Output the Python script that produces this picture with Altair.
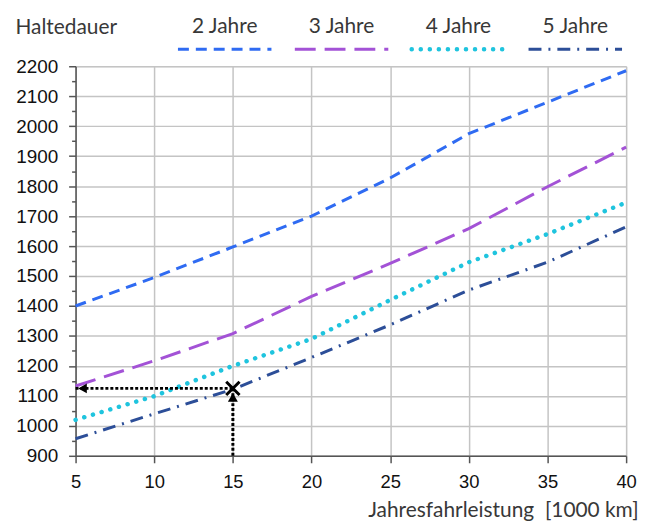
import altair as alt
import pandas as pd

# ---- data ----
km = [5, 10, 15, 20, 25, 30, 35, 40]
jahre2 = [1400, 1495, 1597, 1700, 1827, 1975, 2080, 2185]
jahre3 = [1133, 1217, 1308, 1432, 1542, 1658, 1798, 1930]
jahre4 = [1020, 1099, 1200, 1290, 1420, 1546, 1640, 1745]
jahre5 = [957, 1040, 1122, 1228, 1337, 1453, 1546, 1664]
series_names = ["2 Jahre", "3 Jahre", "4 Jahre", "5 Jahre"]
series_values = [jahre2, jahre3, jahre4, jahre5]
series_colors = ["#2F6BF2", "#A352D6", "#1FC4DE", "#2C4E98"]
series_dash = [[11, 7], [21, 9], [0.1, 9], [13, 7, 2, 7]]
series_width = [3, 3, 4.5, 3]
series_cap = ["butt", "butt", "round", "butt"]

mark_km = [15]
mark_val = [1125]

x_ticks = [5, 10, 15, 20, 25, 30, 35, 40]
y_ticks = list(range(900, 2201, 50))
x_domain = [5, 40]
y_domain = [900, 2200]

LABEL_FONT = "Liberation Sans"
TITLE_FONT = "Lato"
GRID = "#C4C4C4"
AXISC = "#555555"
TXT = "#383838"

xscale = alt.Scale(domain=x_domain, nice=False, zero=False)
yscale = alt.Scale(domain=y_domain, nice=False, zero=False)

x_axis = alt.Axis(
    values=x_ticks, format="d", grid=True, gridColor=GRID, gridWidth=1.5,
    domainColor=AXISC, domainWidth=1.5, tickColor=AXISC, tickWidth=1.5, tickSize=7,
    labelFont=LABEL_FONT, labelFontSize=18.5, labelColor="#111", labelPadding=10,
    labelFlush=False,
    title="Jahresfahrleistung\u00a0\u00a0[1000 km]", titleFont=TITLE_FONT, titleFontSize=21,
    titleFontWeight="normal", titleColor=TXT, titleX=566, titleY=61,
    titleAlign="right", titleBaseline="alphabetic",
)
y_axis = alt.Axis(
    values=y_ticks, format="d", grid=True, gridColor=GRID, gridWidth=1.5,
    gridOpacity={"condition": {"test": "datum.value % 100 === 0", "value": 1}, "value": 0},
    tickSize={"condition": {"test": "datum.value % 100 === 0", "value": 7}, "value": 4},
    labelExpr="datum.value % 100 === 0 ? datum.label : ''",
    labelOverlap=False, labelFlush=False,
    domainColor=AXISC, domainWidth=1.5, tickColor=AXISC, tickWidth=1.5,
    labelFont=LABEL_FONT, labelFontSize=19, labelColor="#111", labelPadding=11,
    title="Haltedauer", titleFont=TITLE_FONT, titleFontSize=21, titleFontWeight="normal",
    titleColor=TXT, titleAngle=0, titleX=-61, titleY=-33, titleAlign="left",
    titleBaseline="alphabetic",
)

layers = []
for i, (name, vals) in enumerate(zip(series_names, series_values)):
    df = pd.DataFrame({"km": km, "v": vals, "s": name})
    layers.append(
        alt.Chart(df).mark_line(
            color=series_colors[i], strokeDash=series_dash[i],
            strokeWidth=series_width[i], strokeCap=series_cap[i],
        ).encode(x=alt.X("km:Q", scale=xscale, axis=x_axis),
                 y=alt.Y("v:Q", scale=yscale, axis=y_axis))
    )

mk = pd.DataFrame({"km": mark_km, "v": mark_val, "kmin": [x_domain[0]] * len(mark_km),
                   "vmin": [y_domain[0]] * len(mark_km)})
base = alt.Chart(mk)
h_arrow = base.mark_rule(color="black", strokeWidth=3, strokeDash=[3, 2]).encode(
    x=alt.X("kmin:Q", scale=xscale, axis=x_axis), x2="km:Q",
    y=alt.Y("v:Q", scale=yscale, axis=y_axis))
v_arrow = base.mark_rule(color="black", strokeWidth=3, strokeDash=[3, 2]).encode(
    x=alt.X("km:Q", scale=xscale, axis=x_axis),
    y=alt.Y("vmin:Q", scale=yscale, axis=y_axis), y2="v:Q")
h_head = base.mark_point(shape="triangle-left", filled=True, color="black", size=100,
                         opacity=1, xOffset=7).encode(
    x=alt.X("kmin:Q", scale=xscale, axis=x_axis), y=alt.Y("v:Q", scale=yscale, axis=y_axis))
v_head = base.mark_point(shape="triangle-up", filled=True, color="black", size=100,
                         opacity=1, yOffset=9).encode(
    x=alt.X("km:Q", scale=xscale, axis=x_axis), y=alt.Y("v:Q", scale=yscale, axis=y_axis))
x_mark = base.mark_point(shape="M-1,-1L1,1M-1,1L1,-1", filled=False, color="black",
                         strokeWidth=3, size=180, opacity=1).encode(
    x=alt.X("km:Q", scale=xscale, axis=x_axis), y=alt.Y("v:Q", scale=yscale, axis=y_axis))

main = alt.layer(*layers, h_arrow, v_arrow, h_head, v_head, x_mark)

# ---- legend (labels above line samples) ----
lscale = alt.Scale(domain=[-1.276, 3.435], nice=False, zero=False)
leg_layers = []
for i, name in enumerate(series_names):
    ldf = pd.DataFrame({"s": [name], "c": [i], "a": [i - 0.4], "b": [i + 0.4]})
    lb = alt.Chart(ldf)
    leg_layers.append(lb.mark_text(font=TITLE_FONT, fontSize=21, color=TXT,
                                   baseline="alphabetic", align="center").encode(
        x=alt.X("c:Q", scale=lscale, axis=None), y=alt.value(-33), text="s:N"))
    leg_layers.append(lb.mark_rule(color=series_colors[i], strokeDash=series_dash[i],
                                   strokeWidth=series_width[i], strokeCap=series_cap[i]).encode(
        x=alt.X("a:Q", scale=lscale, axis=None), x2="b:Q", y=alt.value(-17)))
legend = alt.layer(*leg_layers)

chart = alt.layer(main, legend).resolve_scale(x="independent").properties(
    width=554, height=392,
    autosize=alt.AutoSizeParams(type="none"),
    padding={"left": 68, "top": 57, "right": 20, "bottom": 66},
).configure_view(stroke=None).configure(background="white")

chart.save("out.html", embed_options={"renderer": "svg", "actions": False})
